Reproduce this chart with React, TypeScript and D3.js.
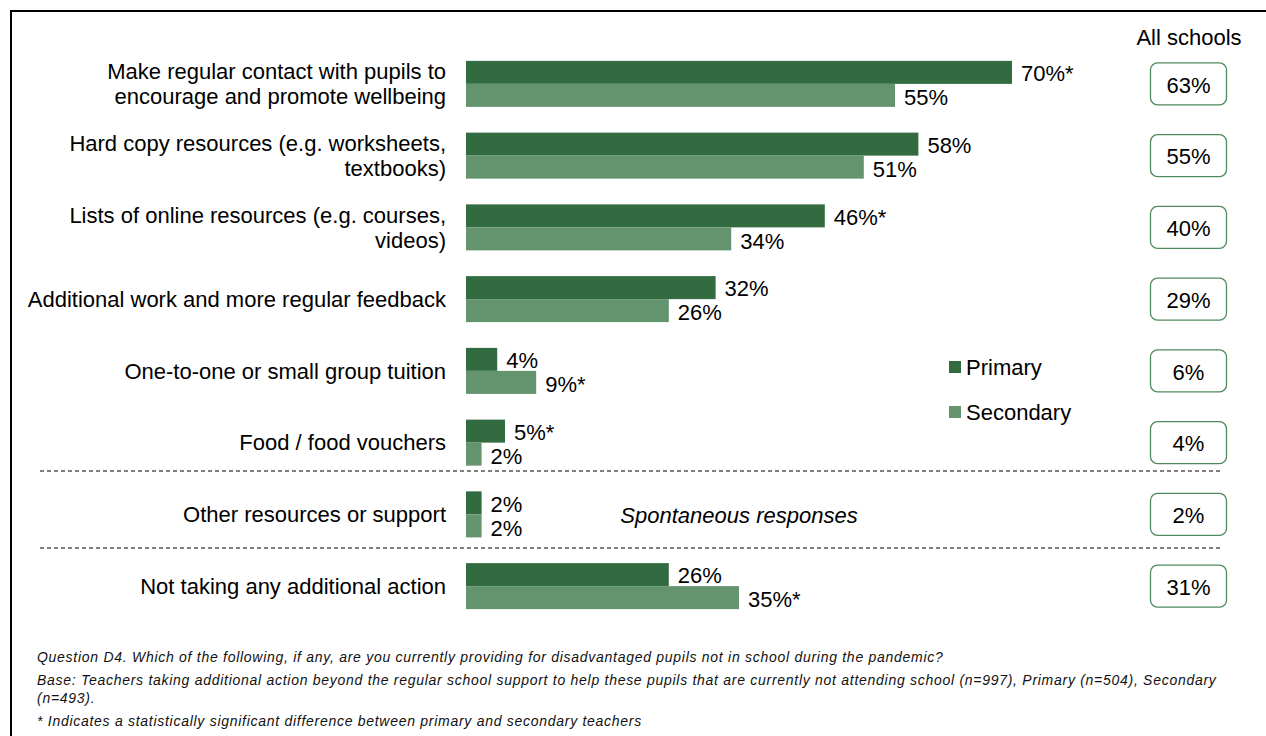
import React, { useEffect, useRef } from 'react';
import * as d3 from 'd3';

const categories: string[][] = [
  ['Make regular contact with pupils to', 'encourage and promote wellbeing'],
  ['Hard copy resources (e.g. worksheets,', 'textbooks)'],
  ['Lists of online resources (e.g. courses,', 'videos)'],
  ['Additional work and more regular feedback'],
  ['One-to-one or small group tuition'],
  ['Food / food vouchers'],
  ['Other resources or support'],
  ['Not taking any additional action'],
];
const primary = [70, 58, 46, 32, 4, 5, 2, 26];
const secondary = [55, 51, 34, 26, 9, 2, 2, 35];
const primarySig = [true, false, true, false, false, true, false, false];
const secondarySig = [false, false, false, false, true, false, false, true];
const allSchools = [63, 55, 40, 29, 6, 4, 2, 31];
const footnotes = [
  'Question D4. Which of the following, if any, are you currently providing for disadvantaged pupils not in school during the pandemic?',
  'Base: Teachers taking additional action beyond the regular school support to help these pupils that are currently not attending school (n=997), Primary (n=504), Secondary',
  '(n=493).',
  '* Indicates a statistically significant difference between primary and secondary teachers',
];

const W = 1266;
const H = 736;
const C_PRIMARY = '#336b41';
const C_SECONDARY = '#64946e';
const FONT = '"Liberation Sans", Arial, sans-serif';
const FS = 22;

const App: React.FC = () => {
  const ref = useRef<SVGSVGElement>(null);

  useEffect(() => {
    if (!ref.current) return;
    const svg = d3.select(ref.current);
    svg.selectAll('*').remove();

    // frame
    svg.append('path')
      .attr('d', `M11,${H + 5} L11,11 L${W + 5},11`)
      .attr('fill', 'none')
      .attr('stroke', '#000')
      .attr('stroke-width', 2);

    const x = d3.scaleLinear().domain([0, 70]).range([466, 1012]);
    const y = d3.scaleBand<number>()
      .domain(d3.range(categories.length))
      .range([48, 622]);
    const barH = 23;

    const g = svg.append('g').style('font-family', FONT);

    // category labels
    categories.forEach((lines, i) => {
      const cy = (y(i) || 0) + y.bandwidth() / 2;
      const t = g.append('text')
        .attr('text-anchor', 'end')
        .attr('font-size', FS)
        .attr('fill', '#000');
      lines.forEach((line, j) => {
        t.append('tspan')
          .attr('x', 446)
          .attr('y', cy + (j - (lines.length - 1) / 2) * 25)
          .attr('dy', '0.35em')
          .text(line);
      });
    });

    const rows = d3.range(categories.length);

    // primary bars
    g.selectAll('.bar-p')
      .data(rows)
      .enter().append('rect')
      .attr('x', x(0))
      .attr('y', i => (y(i) || 0) + y.bandwidth() / 2 - barH)
      .attr('width', i => x(primary[i]) - x(0))
      .attr('height', barH)
      .attr('fill', C_PRIMARY);

    g.selectAll('.bar-s')
      .data(rows)
      .enter().append('rect')
      .attr('x', x(0))
      .attr('y', i => (y(i) || 0) + y.bandwidth() / 2)
      .attr('width', i => x(secondary[i]) - x(0))
      .attr('height', barH)
      .attr('fill', C_SECONDARY);

    // value labels
    g.selectAll('.lab-p')
      .data(rows)
      .enter().append('text')
      .attr('x', i => x(primary[i]) + 9)
      .attr('y', i => (y(i) || 0) + y.bandwidth() / 2 - barH / 2 + 1)
      .attr('dy', '0.35em')
      .attr('font-size', FS)
      .text(i => `${primary[i]}%${primarySig[i] ? '*' : ''}`);

    g.selectAll('.lab-s')
      .data(rows)
      .enter().append('text')
      .attr('x', i => x(secondary[i]) + 9)
      .attr('y', i => (y(i) || 0) + y.bandwidth() / 2 + barH / 2 + 2)
      .attr('dy', '0.35em')
      .attr('font-size', FS)
      .text(i => `${secondary[i]}%${secondarySig[i] ? '*' : ''}`);

    // all schools column
    g.append('text')
      .attr('x', 1189)
      .attr('y', 37)
      .attr('dy', '0.35em')
      .attr('text-anchor', 'middle')
      .attr('font-size', FS)
      .text('All schools');

    rows.forEach(i => {
      const cy = (y(i) || 0) + y.bandwidth() / 2;
      g.append('rect')
        .attr('x', 1150.5)
        .attr('y', cy - 21)
        .attr('width', 76)
        .attr('height', 42)
        .attr('rx', 7)
        .attr('fill', '#fff')
        .attr('stroke', '#4f8a5c')
        .attr('stroke-width', 1.3);
      g.append('text')
        .attr('x', 1188.5)
        .attr('y', cy + 1)
        .attr('dy', '0.35em')
        .attr('text-anchor', 'middle')
        .attr('font-size', FS)
        .text(`${allSchools[i]}%`);
    });

    // dashed separators
    [471, 548].forEach(ly => {
      g.append('line')
        .attr('x1', 40)
        .attr('x2', 1222)
        .attr('y1', ly)
        .attr('y2', ly)
        .attr('stroke', '#000')
        .attr('stroke-width', 1)
        .attr('stroke-dasharray', '4,3');
    });

    // legend
    const legend = [
      { name: 'Primary', color: C_PRIMARY, y: 367 },
      { name: 'Secondary', color: C_SECONDARY, y: 412 },
    ];
    legend.forEach(l => {
      g.append('rect')
        .attr('x', 949)
        .attr('y', l.y - 6)
        .attr('width', 12)
        .attr('height', 12)
        .attr('fill', l.color);
      g.append('text')
        .attr('x', 966)
        .attr('y', l.y)
        .attr('dy', '0.35em')
        .attr('font-size', FS)
        .text(l.name);
    });

    g.append('text')
      .attr('x', 739)
      .attr('y', 515)
      .attr('dy', '0.35em')
      .attr('text-anchor', 'middle')
      .attr('font-size', FS)
      .attr('font-style', 'italic')
      .text('Spontaneous responses');

    // footnotes
    const fy = [657, 680, 698, 721];
    footnotes.forEach((f, i) => {
      g.append('text')
        .attr('x', 37)
        .attr('y', fy[i])
        .attr('dy', '0.35em')
        .attr('font-size', 14)
        .attr('letter-spacing', 0.72)
        .attr('font-style', 'italic')
        .attr('fill', '#111')
        .text(f);
    });
  }, []);

  return (
    <svg
      ref={ref}
      width={W}
      height={H}
      style={{ position: 'absolute', left: 0, top: 0, background: '#fff' }}
    />
  );
};

export default App;
